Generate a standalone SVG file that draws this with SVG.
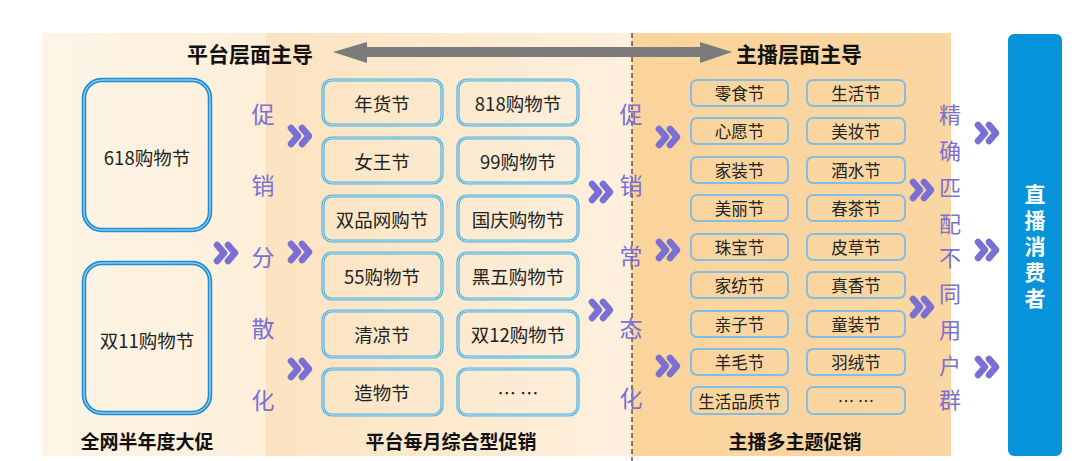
<svg xmlns="http://www.w3.org/2000/svg" width="1080" height="461" viewBox="0 0 1080 461">
<defs>
<linearGradient id="g1" x1="0" y1="0" x2="1" y2="0"><stop offset="0" stop-color="#fef5e8"/><stop offset="1" stop-color="#fdefd9"/></linearGradient>
<linearGradient id="g2" x1="0" y1="0" x2="1" y2="0"><stop offset="0" stop-color="#fce3c0"/><stop offset="1" stop-color="#fdf0de"/></linearGradient>
<linearGradient id="g3" x1="0" y1="0" x2="1" y2="0"><stop offset="0" stop-color="#fbd49c"/><stop offset="1" stop-color="#fad6a2"/></linearGradient>
<g id="chev"><polyline points="-9,-8 -2,0 -9,8" fill="none" stroke="#7a6fd3" stroke-width="6.5" stroke-linecap="round" stroke-linejoin="round"/><polyline points="2,-8 9,0 2,8" fill="none" stroke="#7a6fd3" stroke-width="6.5" stroke-linecap="round" stroke-linejoin="round"/></g>
</defs>
<style>
text{font-family:"Noto Sans CJK SC","Noto Sans",sans-serif;dominant-baseline:central;text-anchor:middle}
.hd{font-size:21px;font-weight:bold;fill:#111}
.ft{font-size:19px;font-weight:bold;fill:#111}
.big rect.o{fill:none;stroke:#1d8fd7;stroke-width:4.5}
.big rect.i{fill:none;stroke:#c3e4f6;stroke-width:1}
.big text{font-size:18.5px;fill:#222}
.mid rect.o{fill:none;stroke:#58b2da;stroke-width:3.2}
.mid rect.i{fill:none;stroke:#d2ecf6;stroke-width:0.8}
.mid text{font-size:18.5px;fill:#222}
.sm rect{fill:none;stroke:#82bee4;stroke-width:2}
.sm text{font-size:16.5px;fill:#222}
.pu{font-size:23px;fill:#7a6fd3}
.pu2{font-size:22px;fill:#7a6fd3}
.wt{font-size:21px;font-weight:bold;fill:#fff;writing-mode:vertical-rl;text-orientation:upright;letter-spacing:5px}
</style>
<rect width="1080" height="461" fill="#ffffff"/>
<g id="panels">
<rect x="42" y="33" width="224" height="423" fill="url(#g1)"/>
<rect x="266" y="33" width="366" height="423" fill="url(#g2)"/>
<rect x="632" y="33" width="319" height="423" fill="url(#g3)"/>
<line x1="632" y1="33" x2="632" y2="461" stroke="#333" stroke-width="1.2" stroke-dasharray="5,3"/>
</g>
<g id="headers">
<text class="hd" x="250" y="53">平台层面主导</text>
<text class="hd" x="799" y="53">主播层面主导</text>
<polygon points="333,52 367,42 367,47 700,47 700,42 732,52 700,63 700,57 367,57 367,63" fill="#7b7b7b"/>
</g>
<g id="big-618" class="big"><rect class="o" x="84" y="80" width="126" height="150" rx="18"/><rect class="i" x="84" y="80" width="126" height="150" rx="18"/><text x="147" y="157">618购物节</text></g>
<g id="big-1111" class="big"><rect class="o" x="84" y="263" width="126" height="150" rx="18"/><rect class="i" x="84" y="263" width="126" height="150" rx="18"/><text x="147" y="340">双11购物节</text></g>
<g id="mid" class="mid">
<g id="m1"><rect class="o" x="323" y="80" width="119" height="45" rx="9"/><rect class="i" x="323" y="80" width="119" height="45" rx="9"/><text x="382" y="103">年货节</text></g>
<g id="m2"><rect class="o" x="458" y="80" width="120" height="45" rx="9"/><rect class="i" x="458" y="80" width="120" height="45" rx="9"/><text x="518" y="103">818购物节</text></g>
<g id="m3"><rect class="o" x="323" y="138" width="119" height="45" rx="9"/><rect class="i" x="323" y="138" width="119" height="45" rx="9"/><text x="382" y="161">女王节</text></g>
<g id="m4"><rect class="o" x="458" y="138" width="120" height="45" rx="9"/><rect class="i" x="458" y="138" width="120" height="45" rx="9"/><text x="518" y="161">99购物节</text></g>
<g id="m5"><rect class="o" x="323" y="196" width="119" height="45" rx="9"/><rect class="i" x="323" y="196" width="119" height="45" rx="9"/><text x="382" y="219">双品网购节</text></g>
<g id="m6"><rect class="o" x="458" y="196" width="120" height="45" rx="9"/><rect class="i" x="458" y="196" width="120" height="45" rx="9"/><text x="518" y="219">国庆购物节</text></g>
<g id="m7"><rect class="o" x="323" y="253" width="119" height="46" rx="9"/><rect class="i" x="323" y="253" width="119" height="46" rx="9"/><text x="382" y="276">55购物节</text></g>
<g id="m8"><rect class="o" x="458" y="253" width="120" height="46" rx="9"/><rect class="i" x="458" y="253" width="120" height="46" rx="9"/><text x="518" y="276">黑五购物节</text></g>
<g id="m9"><rect class="o" x="323" y="311" width="119" height="46" rx="9"/><rect class="i" x="323" y="311" width="119" height="46" rx="9"/><text x="382" y="334">清凉节</text></g>
<g id="m10"><rect class="o" x="458" y="311" width="120" height="46" rx="9"/><rect class="i" x="458" y="311" width="120" height="46" rx="9"/><text x="518" y="334">双12购物节</text></g>
<g id="m11"><rect class="o" x="323" y="369" width="119" height="46" rx="9"/><rect class="i" x="323" y="369" width="119" height="46" rx="9"/><text x="382" y="392">造物节</text></g>
<g id="m12"><rect class="o" x="458" y="369" width="120" height="46" rx="9"/><rect class="i" x="458" y="369" width="120" height="46" rx="9"/><text x="518" y="392">… …</text></g>
</g>
<g id="small" class="sm">
<g id="s1"><rect x="691" y="80" width="97" height="26" rx="6"/><text x="739.5" y="93">零食节</text></g>
<g id="s2"><rect x="807" y="80" width="98" height="26" rx="6"/><text x="856" y="93">生活节</text></g>
<g id="s3"><rect x="691" y="118" width="97" height="26" rx="6"/><text x="739.5" y="131">心愿节</text></g>
<g id="s4"><rect x="807" y="118" width="98" height="26" rx="6"/><text x="856" y="131">美妆节</text></g>
<g id="s5"><rect x="691" y="157" width="97" height="26" rx="6"/><text x="739.5" y="170">家装节</text></g>
<g id="s6"><rect x="807" y="157" width="98" height="26" rx="6"/><text x="856" y="170">酒水节</text></g>
<g id="s7"><rect x="691" y="195" width="97" height="26" rx="6"/><text x="739.5" y="208">美丽节</text></g>
<g id="s8"><rect x="807" y="195" width="98" height="26" rx="6"/><text x="856" y="208">春茶节</text></g>
<g id="s9"><rect x="691" y="234" width="97" height="26" rx="6"/><text x="739.5" y="247">珠宝节</text></g>
<g id="s10"><rect x="807" y="234" width="98" height="26" rx="6"/><text x="856" y="247">皮草节</text></g>
<g id="s11"><rect x="691" y="272" width="97" height="26" rx="6"/><text x="739.5" y="285">家纺节</text></g>
<g id="s12"><rect x="807" y="272" width="98" height="26" rx="6"/><text x="856" y="285">真香节</text></g>
<g id="s13"><rect x="691" y="311" width="97" height="26" rx="6"/><text x="739.5" y="324">亲子节</text></g>
<g id="s14"><rect x="807" y="311" width="98" height="26" rx="6"/><text x="856" y="324">童装节</text></g>
<g id="s15"><rect x="691" y="349" width="97" height="26" rx="6"/><text x="739.5" y="362">羊毛节</text></g>
<g id="s16"><rect x="807" y="349" width="98" height="26" rx="6"/><text x="856" y="362">羽绒节</text></g>
<g id="s17"><rect x="691" y="387" width="97" height="27" rx="6"/><text x="739.5" y="400.5">生活品质节</text></g>
<g id="s18"><rect x="807" y="387" width="98" height="27" rx="6"/><text x="856" y="400.5">… …</text></g>
</g>
<g id="consumer"><rect x="1008" y="34" width="54" height="422" rx="6" fill="#0593d9"/>
<text class="wt" x="1035" y="249">直播消费者</text></g>
<g id="labels">
<text class="pu" x="263" y="113">促</text><text class="pu" x="263" y="184">销</text><text class="pu" x="263" y="256">分</text><text class="pu" x="263" y="327">散</text><text class="pu" x="263" y="399">化</text>
<text class="pu" x="631" y="113">促</text><text class="pu" x="631" y="184">销</text><text class="pu" x="631" y="255">常</text><text class="pu" x="631" y="327">态</text><text class="pu" x="631" y="397">化</text>
<text class="pu2" x="950" y="113">精</text><text class="pu2" x="950" y="149">确</text><text class="pu2" x="950" y="186">匹</text><text class="pu2" x="950" y="222">配</text><text class="pu2" x="950" y="256">不</text><text class="pu2" x="950" y="292">同</text><text class="pu2" x="950" y="328">用</text><text class="pu2" x="950" y="364">户</text><text class="pu2" x="950" y="398">群</text>
<text class="ft" x="147" y="440">全网半年度大促</text>
<text class="ft" x="451" y="440">平台每月综合型促销</text>
<text class="ft" x="795" y="440">主播多主题促销</text>
</g>
<g id="connectors">
<use href="#chev" x="226" y="253"/>
<use href="#chev" x="300" y="136"/><use href="#chev" x="300" y="252"/><use href="#chev" x="300" y="369"/>
<use href="#chev" x="601" y="192"/><use href="#chev" x="601" y="310"/>
<use href="#chev" x="668" y="137"/><use href="#chev" x="668" y="250"/><use href="#chev" x="668" y="366"/>
<use href="#chev" x="922" y="190"/><use href="#chev" x="922" y="307"/>
<use href="#chev" x="987" y="133"/><use href="#chev" x="987" y="250"/><use href="#chev" x="987" y="367"/>
</g>
</svg>
